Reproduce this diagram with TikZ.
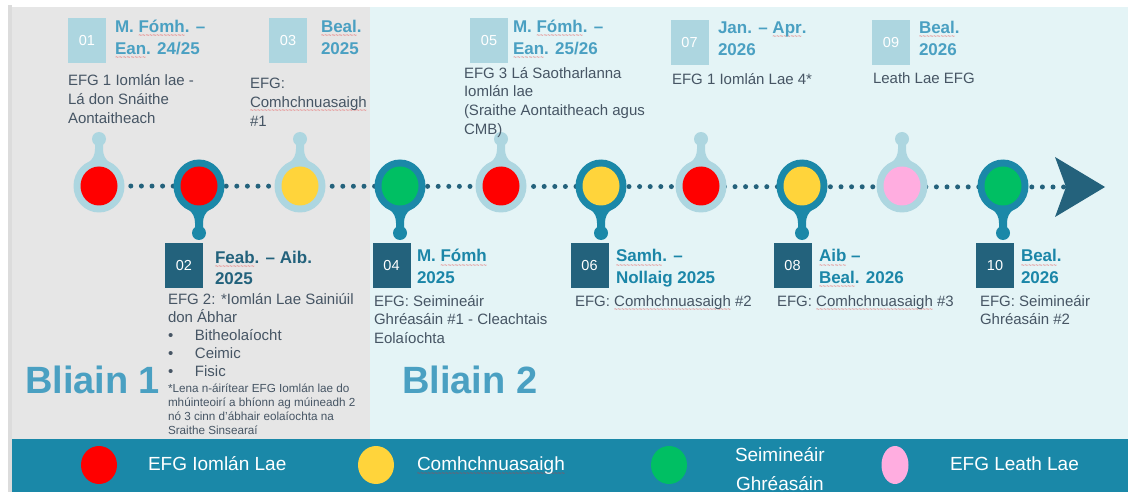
\documentclass[tikz,border=0pt]{standalone}
\usepackage{fontspec}
\setmainfont{Liberation Sans}
\newcommand*{\bodyfont}{\fontsize{15}{18.7}\selectfont}
\newcommand*{\listfont}{\fontsize{15}{18}\selectfont}
\newcommand*{\notefont}{\fontsize{11.7}{14.3}\selectfont}
\newcommand*{\datefont}{\fontsize{17}{21.5}\selectfont\bfseries}
\newcommand*{\numfont}{\fontsize{14.5}{16}\selectfont}
\newcommand*{\yearfont}{\fontsize{38}{40}\selectfont\bfseries}
\newcommand*{\keyfont}{\fontsize{19}{29}\selectfont}
% red spell-check wave under a word
\newcommand*{\sq}[1]{\setbox0\hbox{#1}\rlap{\color{sqred}\lower5pt\hbox to\wd0{\fontsize{6}{6}\selectfont\mdseries\xleaders\hbox{\textasciitilde}\hfil}}\box0\relax}
\definecolor{full}{RGB}{255,0,0}
\definecolor{comh}{RGB}{255,212,59}
\definecolor{sem}{RGB}{0,191,99}
\definecolor{half}{RGB}{255,173,224}
\definecolor{sqred}{RGB}{230,40,40}
\definecolor{ringlight}{RGB}{173,214,224}
\definecolor{ringdark}{RGB}{27,136,168}
\definecolor{boxdark}{RGB}{35,98,124}
\definecolor{dotcol}{RGB}{36,98,124}
\definecolor{headlight}{RGB}{74,160,194}
\definecolor{headdark}{RGB}{27,134,168}
\definecolor{bodytext}{RGB}{70,85,100}
\definecolor{greybg}{RGB}{230,230,230}
\definecolor{greyedge}{RGB}{220,220,220}
\definecolor{cyanbg}{RGB}{228,244,246}
\definecolor{band}{RGB}{26,136,168}
\usetikzlibrary{positioning}
\usetikzlibrary{shapes.geometric}
\tikzstyle{base}=[inner sep=0pt, outer sep=0pt]
\tikzstyle{numlight}=[rectangle, fill=ringlight, minimum width=38pt, minimum height=45pt, text=white, font=\numfont]
\tikzstyle{numdark}=[numlight, fill=boxdark]
% multi-line nodes are placed at the baseline of their last line
\tikzstyle{datelight}=[anchor=base west, align=left, font=\datefont, text=headlight]
\tikzstyle{datedark}=[datelight, text=headdark]
\tikzstyle{body}=[anchor=base west, align=left, font=\bodyfont, text=bodytext]
\tikzstyle{ring}=[ellipse, minimum width=51pt, minimum height=53pt]
\tikzstyle{dot}=[ellipse, minimum width=37pt, minimum height=39pt]
\tikzstyle{key}=[ellipse, minimum width=36pt, minimum height=38pt]
\tikzstyle{keytext}=[anchor=base west, align=center, font=\keyfont, text=white]
\tikzstyle{dotline}=[dotcol, line width=5pt, line cap=round, dash pattern=on 0pt off 10.6pt]
\begin{document}
\begin{tikzpicture}[base, x=1pt, y=-1pt]
    \path [use as bounding box] (0,0) rectangle (1128,492);
    % backgrounds
    \fill [white] (0,0) rectangle (1128,492);
    \fill [greyedge] (8,5) rectangle (12,492);
    \fill [greybg] (12,7) rectangle (370,439);
    \fill [cyanbg] (370,7) rectangle (1128,439);
    \fill [band] (12,439) rectangle (1128,492);
    \node [anchor=base west, font=\yearfont, text=headlight] (y1) at (25,393) {Bliain 1};
    \node [anchor=base west, font=\yearfont, text=headlight] (y2) at (402,393) {Bliain 2};
    % timeline
    \foreach \i/\px in {1/99,2/199,3/300,4/400,5/501,6/601,7/701,8/802,9/902,10/1003}
        \coordinate (c\i) at (\px,186);
    \coordinate (atop) at (1055,157);
    \coordinate (atip) at (1105,187);
    \coordinate (abot) at (1055,217);
    \coordinate (anotch) at (1066,187);
    \draw [dotline] (c1) -- (anotch);
    \fill [dotcol] (atop) -- (atip) -- (abot) -- (anotch) -- cycle;
    \foreach \i/\fc/\rc/\sd in {1/full/ringlight/-1,2/full/ringdark/1,3/comh/ringlight/-1,
            4/sem/ringdark/1,5/full/ringlight/-1,6/comh/ringdark/1,7/full/ringlight/-1,
            8/comh/ringdark/1,9/half/ringlight/-1,10/sem/ringdark/1} {
        \begin{scope}[shift={(c\i)}, yscale=\sd]
            \fill [\rc] (0,47) circle (7pt);
            \fill [\rc] (-11,23) .. controls (-6,27) and (-4,31) .. (-4,37)
                -- (-4,45) -- (4,45) -- (4,37) .. controls (4,31) and (6,27) .. (11,23) -- cycle;
        \end{scope}
        \node [ring, fill=\rc] (r\i) at (c\i) {};
        \node [dot, fill=\fc] (p\i) at (c\i) {};
    }
    % top events
    \node [numlight] (n01) at (87,40.5) {01};
    \node [datelight] (d01) at (115,54.5) {M. \sq{Fómh}. –\\\sq{Ean}. 24/25};
    \node [body] (t01) at (68,123.4) {EFG 1 Iomlán lae -\\Lá don Snáithe\\Aontaitheach};
    \node [numlight] (n03) at (288,40.5) {03};
    \node [datelight] (d03) at (321,54.5) {\sq{Beal}.\\2025};
    \node [body] (t03) at (250,126.4) {EFG:\\\sq{Comhchnuasaigh}\\\#1};
    \node [numlight] (n05) at (489,40.5) {05};
    \node [datelight] (d05) at (513,54.5) {M. \sq{Fómh}. –\\\sq{Ean}. 25/26};
    \node [body] (t05) at (464,134.1) {EFG 3 Lá Saotharlanna\\Iomlán lae\\(Sraithe Aontaitheach agus\\CMB)};
    \node [numlight] (n07) at (689.5,42.5) {07};
    \node [datelight] (d07) at (718,55.5) {Jan. – \sq{Apr}.\\2026};
    \node [body] (t07) at (672,85) {EFG 1 Iomlán Lae 4*};
    \node [numlight] (n09) at (891,42.5) {09};
    \node [datelight] (d09) at (919,55.5) {\sq{Beal}.\\2026};
    \node [body] (t09) at (873,84) {Leath Lae EFG};
    % bottom events
    \node [numdark] (n02) at (184,265.5) {02};
    \node [datedark, text=boxdark] (d02) at (215,284.5) {\sq{Feab}. – Aib.\\2025};
    \node [body, font=\listfont] (t02) at (168,376) {EFG 2: *Iomlán Lae Sainiúil\\don Ábhar\\
        \makebox[27pt][l]{•}Bitheolaíocht\\\makebox[27pt][l]{•}Ceimic\\\makebox[27pt][l]{•}Fisic};
    \node [body, font=\notefont] (f02) at (168,434.9) {*Lena n-áirítear EFG Iomlán lae do\\
        mhúinteoirí a bhíonn ag múineadh 2\\nó 3 cinn d'ábhair eolaíochta na\\Sraithe Sinsearaí};
    \node [numdark] (n04) at (391.5,265.5) {04};
    \node [datedark] (d04) at (417,283.5) {M. \sq{Fómh}\\2025};
    \node [body] (t04) at (374,343.4) {EFG: Seimineáir\\Ghréasáin \#1 - Cleachtais\\Eolaíochta};
    \node [numdark] (n06) at (589.5,265.5) {06};
    \node [datedark] (d06) at (616,283.5) {\sq{Samh}. –\\Nollaig 2025};
    \node [body] (t06) at (575,306) {EFG: \sq{Comhchnuasaigh} \#2};
    \node [numdark] (n08) at (792.5,265.5) {08};
    \node [datedark] (d08) at (819,283.5) {\sq{Aib} –\\\sq{Beal}. 2026};
    \node [body] (t08) at (777,306) {EFG: \sq{Comhchnuasaigh} \#3};
    \node [numdark] (n10) at (995,265.5) {10};
    \node [datedark] (d10) at (1021,283.5) {\sq{Beal}.\\2026};
    \node [body] (t10) at (980,324.7) {EFG: Seimineáir\\Ghréasáin \#2};
    % legend
    \node [key, fill=full] (k1) at (99,465) {};
    \node [keytext] (kt1) at (148,470) {EFG Iomlán Lae};
    \node [key, fill=comh] (k2) at (376,465) {};
    \node [keytext] (kt2) at (417,470) {\sq{Comhchnuasaigh}};
    \node [key, fill=sem] (k3) at (669,465) {};
    \node [keytext] (kt3) at (735,490) {Seimineáir\\Ghréasáin};
    \node [key, fill=half, minimum width=27pt] (k4) at (895,465) {};
    \node [keytext] (kt4) at (950,470) {EFG Leath Lae};
\end{tikzpicture}
\end{document}
